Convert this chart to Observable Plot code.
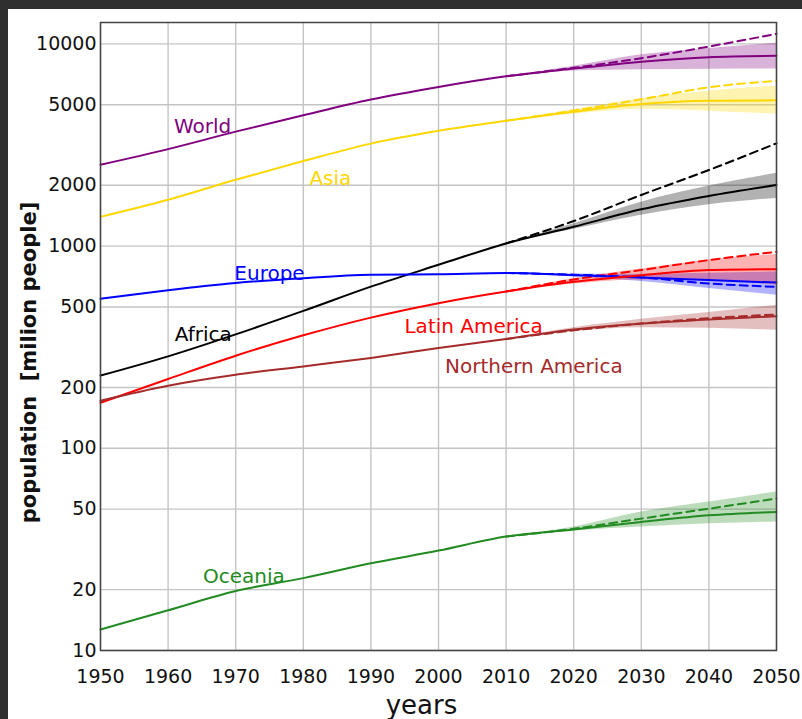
<!DOCTYPE html>
<html><head><meta charset="utf-8">
<script src="https://cdn.jsdelivr.net/npm/d3@7"></script>
<script src="https://cdn.jsdelivr.net/npm/@observablehq/plot@0.6"></script>
<style>
html,body{margin:0;padding:0;background:#2f2f2f;width:802px;height:719px;overflow:hidden}
#chart{position:absolute;left:8px;top:9px;width:794px;height:710px;background:#fff}
</style></head><body><div id="chart"></div>
<script>
// ---- data (million people) ----
const regions = ["World", "Asia", "Africa", "Europe", "Latin America", "Northern America", "Oceania"];
const histYears = [1950, 1960, 1970, 1980, 1990, 2000, 2010];
const projYears = [2010, 2020, 2030, 2040, 2050];

const worldHist = [2525, 3018, 3682, 4440, 5310, 6127, 6916];
const worldMedian = [6916, 7550, 8170, 8600, 8730];
const worldDashed = [6916, 7620, 8500, 9700, 11220];
const worldLow = [6916, 7350, 7450, 7500, 7520];
const worldHigh = [6916, 7750, 8830, 9500, 10070];

const asiaHist = [1395, 1694, 2128, 2634, 3213, 3717, 4165];
const asiaMedian = [4165, 4620, 5045, 5240, 5260];
const asiaDashed = [4165, 4680, 5320, 6100, 6560];
const asiaLow = [4165, 4500, 4750, 4650, 4490];
const asiaHigh = [4165, 4720, 5350, 5850, 6200];

const africaHist = [229, 285, 366, 478, 630, 808, 1031];
const africaMedian = [1031, 1246, 1520, 1770, 2004];
const africaDashed = [1031, 1330, 1790, 2378, 3223];
const africaLow = [1031, 1210, 1420, 1600, 1722];
const africaHigh = [1031, 1290, 1650, 1980, 2290];

const europeHist = [549, 605, 657, 694, 721, 726, 736];
const europeMedian = [736, 718, 700, 679, 660];
const europeDashed = [736, 722, 700, 653, 629];
const europeLow = [736, 705, 668, 617, 572];
const europeHigh = [736, 728, 725, 735, 745];

const latamHist = [168, 220, 287, 362, 443, 522, 596];
const latamMedian = [596, 666, 718, 761, 769];
const latamDashed = [596, 684, 761, 853, 937];
const latamLow = [596, 650, 680, 680, 640];
const latamHigh = [596, 690, 770, 850, 910];

const namHist = [172, 204, 231, 254, 280, 313, 347];
const namMedian = [347, 387, 414, 434, 450];
const namDashed = [347, 383, 414, 440, 459];
const namLow = [347, 378, 395, 392, 384];
const namHigh = [347, 395, 435, 470, 510];

const oceaniaHist = [12.7, 15.8, 19.7, 22.8, 27.0, 31.2, 36.6];
const oceaniaMedian = [36.6, 39.7, 43.2, 46.6, 48.4];
const oceaniaDashed = [36.6, 40.0, 44.9, 50.3, 56.4];
const oceaniaLow = [36.6, 39.0, 40.8, 42.3, 43.2];
const oceaniaHigh = [36.6, 40.8, 48.4, 54.2, 60.8];

// label anchor points (year, population)
const labelYears = [1965.1, 1984.0, 1965.2, 1975.0, 2005.2, 2014.1, 1971.2];
const labelValues = [3880, 2148, 367, 735, 402, 255, 23.2];

const xTicks = [1950, 1960, 1970, 1980, 1990, 2000, 2010, 2020, 2030, 2040, 2050];
const yTicks = [10, 20, 50, 100, 200, 500, 1000, 2000, 5000, 10000];

const seriesColors = ["#800080", "#FFD700", "#000000", "#0000FF", "#FF0000", "#A52A2A", "#228B22"];

// ---- build tables ----
const series = [
  [worldHist, worldMedian, worldDashed, worldLow, worldHigh],
  [asiaHist, asiaMedian, asiaDashed, asiaLow, asiaHigh],
  [africaHist, africaMedian, africaDashed, africaLow, africaHigh],
  [europeHist, europeMedian, europeDashed, europeLow, europeHigh],
  [latamHist, latamMedian, latamDashed, latamLow, latamHigh],
  [namHist, namMedian, namDashed, namLow, namHigh],
  [oceaniaHist, oceaniaMedian, oceaniaDashed, oceaniaLow, oceaniaHigh]
];
const solid = [], dashed = [], bands = [];
series.forEach(([hist, med, dash, lo, hi], i) => {
  const region = regions[i];
  histYears.forEach((year, j) => solid.push({region, year, value: hist[j]}));
  projYears.forEach((year, j) => {
    if (j > 0) solid.push({region, year, value: med[j]});
    dashed.push({region, year, value: dash[j]});
    bands.push({region, year, lo: lo[j], hi: hi[j]});
  });
});
const labels = regions.map((region, i) => ({region, year: labelYears[i], value: labelValues[i]}));

const plot = Plot.plot({
  width: 794, height: 710,
  marginLeft: 92, marginRight: 26, marginTop: 13, marginBottom: 69,
  style: {fontFamily: "'DejaVu Sans', sans-serif", fontSize: "19px", background: "white", color: "#222"},
  x: {domain: [1950, 2050]},
  y: {type: "log", domain: [10, 12760]},
  color: {domain: regions, range: seriesColors},
  marks: [
    Plot.gridX(xTicks, {stroke: "#c4c4c4", strokeOpacity: 1, strokeWidth: 1.4}),
    Plot.gridY(yTicks, {stroke: "#c4c4c4", strokeOpacity: 1, strokeWidth: 1.4}),
    Plot.areaY(bands, {x: "year", y1: "lo", y2: "hi", fill: "region", fillOpacity: 0.3, curve: "monotone-x"}),
    Plot.line(dashed, {x: "year", y: "value", stroke: "region", strokeWidth: 2, strokeDasharray: "8,5", curve: "monotone-x"}),
    Plot.line(solid, {x: "year", y: "value", stroke: "region", strokeWidth: 2, curve: "monotone-x"}),
    Plot.text(labels, {x: "year", y: "value", text: "region", fill: "region", fontSize: 20, textAnchor: "middle", lineAnchor: "middle"}),
    Plot.axisX(xTicks, {tickSize: 0, tickPadding: 19, tickFormat: d => String(d), label: null, fill: "#111"}),
    Plot.axisY(yTicks, {tickSize: 0, tickPadding: 4, tickFormat: d => String(d), label: null, fill: "#111"}),
    Plot.frame({stroke: "#444", strokeWidth: 1.5}),
    Plot.text(["population  [milion people]"], {text: d => d, frameAnchor: "left", rotate: -90, dx: -71, dy: 26, fontSize: 21, fontWeight: "bold", fill: "#111", textAnchor: "middle", lineAnchor: "middle"}),
    Plot.text(["years"], {text: d => d, frameAnchor: "bottom", dx: -17, dy: 55, fontSize: 26, fill: "#111", textAnchor: "middle", lineAnchor: "middle"})
  ]
});
document.getElementById("chart").appendChild(plot);
</script></body></html>
